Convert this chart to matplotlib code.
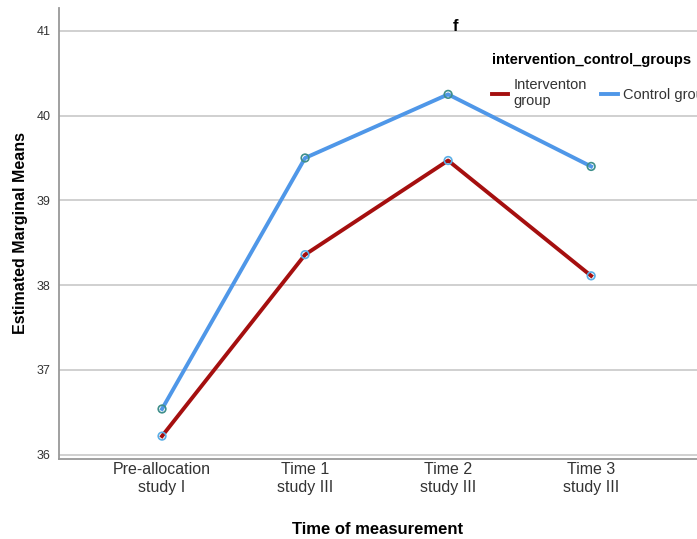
import matplotlib.pyplot as plt

plt.rcParams['font.family'] = ['Liberation Sans', 'DejaVu Sans']

categories = ['Pre-allocation\nstudy I', 'Time 1\nstudy III', 'Time 2\nstudy III', 'Time 3\nstudy III']
intervention = [36.22, 38.36, 39.47, 38.11]
control = [36.54, 39.50, 40.25, 39.40]
series_labels = ['Interventon\ngroup', 'Control group']
yticks = [36, 37, 38, 39, 40, 41]

fig = plt.figure(figsize=(6.97, 5.39), dpi=100)
ax = fig.add_axes([0.0847, 0.1484, 0.9153, 0.837])

x = range(len(categories))
ax.plot(x, intervention, color='#a50f0f', lw=2.8, zorder=3, label=series_labels[0])
ax.plot(x, control, color='#4f97e8', lw=2.8, zorder=3, label=series_labels[1])
ax.scatter(x, intervention, s=30, facecolors='none', edgecolors='#5aaee6', lw=1.2, zorder=4)
ax.scatter(x, control, s=30, facecolors='none', edgecolors='#3f8f8a', lw=1.2, zorder=4)

ax.set_xlim(-0.72, 3.74)
ax.set_ylim(35.95, 41.27)
ax.set_yticks(yticks)
ax.set_xticks(list(x))
ax.set_xticklabels(categories, fontsize=11.5, color='#333333', linespacing=1.3)
ax.tick_params(axis='y', labelsize=9, colors='#333333', length=0, pad=6)
ax.tick_params(axis='x', length=0, pad=2)
ax.grid(axis='y', color='#c8c8c8', lw=1.2)
ax.set_axisbelow(True)

for side in ['top', 'right']:
    ax.spines[side].set_visible(False)
for side in ['left', 'bottom']:
    ax.spines[side].set_color('#999999')
    ax.spines[side].set_linewidth(1.3)

ax.set_xlabel('Time of measurement', fontsize=12, fontweight='bold', labelpad=19)
ax.set_ylabel('Estimated Marginal Means', fontsize=11.5, fontweight='bold', labelpad=6)

fig.text(0.654, 0.95, 'f', fontsize=12, fontweight='bold', ha='center', va='center')

leg = fig.legend(loc='upper left', bbox_to_anchor=(0.697, 0.912), ncol=2, frameon=False,
                 title='intervention_control_groups', fontsize=10.5, handlelength=1.1,
                 handletextpad=0.4, columnspacing=1.0, borderaxespad=0, labelspacing=0.2)
leg.get_title().set_fontweight('bold')
leg.get_title().set_fontsize(10.5)
leg._legend_box.align = 'left'
leg._legend_box.sep = 8
for t in leg.get_texts():
    t.set_color('#333333')
    t.set_linespacing(1.15)

fig.savefig('out.png', dpi=100)
